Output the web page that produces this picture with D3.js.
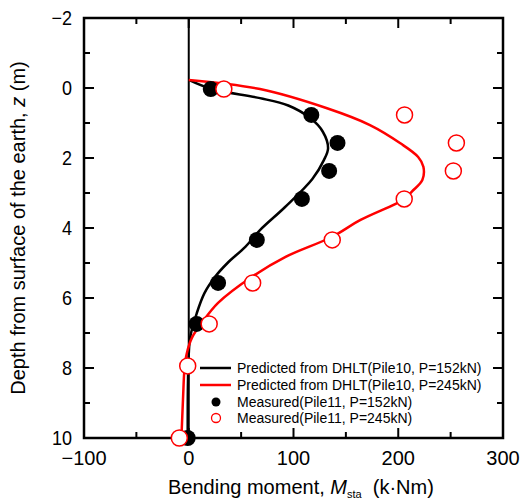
<!DOCTYPE html>
<html><head><meta charset="utf-8">
<script src="https://cdn.jsdelivr.net/npm/d3@7"></script>
<style>body{margin:0;background:#fff}svg{display:block}text{font-family:"Liberation Sans",Arial,sans-serif}</style>
</head><body><svg id="c" width="521" height="501"></svg>
<script>
// Data
const xTicks = [-100, 0, 100, 200, 300];
const yTicks = [-2, 0, 2, 4, 6, 8, 10];
const measDepth = [0.03, 0.77, 1.57, 2.37, 3.17, 4.34, 5.57, 6.74, 7.94, 10];
const meas152 = [21, 117, 142, 134, 108, 65, 28, 7.5, -1, -1];
const meas245 = [33.5, 206, 255.5, 252.6, 205.7, 137, 61, 19.5, -1, -9];
const predDepth152 = [-0.23, 0.03, 0.29, 0.5, 0.86, 1.25, 1.72, 2.06, 2.6, 3.4, 4.06, 4.54, 5.0, 5.4, 5.86, 6.43, 7.1, 7.6, 8.5, 10];
const pred152 = [0, 22, 68, 95, 116, 128, 133, 129, 118, 92, 68, 54, 37, 25, 15, 7.7, 1.5, 0, -0.8, -1];
const predDepth245 = [-0.23, 0.03, 0.58, 1.06, 1.58, 1.97, 2.25, 2.63, 2.96, 3.17, 3.77, 4.25, 4.83, 5.4, 6.14, 6.71, 7.14, 7.6, 8.0, 8.9, 10];
const pred245 = [0, 68, 132, 173, 202, 219, 224, 223, 213, 206, 164, 137, 92, 60, 28, 12.5, 3, -2, -4, -5.5, -7];
const legendLabels = ["Predicted from DHLT(Pile10, P=152kN)", "Predicted from DHLT(Pile10, P=245kN)", "Measured(Pile11, P=152kN)", "Measured(Pile11, P=245kN)"];

const svg = d3.select("#c");
const L = 84, R = 503, T = 18, B = 438;
const x = d3.scaleLinear().domain([-100, 300]).range([L, R]);
const y = d3.scaleLinear().domain([-2, 10]).range([T, B]);

// ticks
const g = svg.append("g");
const minorX = d3.range(-100, 301, 50), minorY = d3.range(-2, 10.01, 1);
minorX.forEach(v => {
  const len = (v % 100 === 0) ? 10 : 6;
  if (v === -100 || v === 300) return;
  g.append("line").attr("x1", x(v)).attr("x2", x(v)).attr("y1", B).attr("y2", B - len).attr("stroke", "#000").attr("stroke-width", 2);
  g.append("line").attr("x1", x(v)).attr("x2", x(v)).attr("y1", T).attr("y2", T + len).attr("stroke", "#000").attr("stroke-width", 2);
});
minorY.forEach(v => {
  const len = (v % 2 === 0) ? 10 : 6;
  if (v === -2 || v === 10) return;
  g.append("line").attr("x1", L).attr("x2", L + len).attr("y1", y(v)).attr("y2", y(v)).attr("stroke", "#000").attr("stroke-width", 2);
  g.append("line").attr("x1", R).attr("x2", R - len).attr("y1", y(v)).attr("y2", y(v)).attr("stroke", "#000").attr("stroke-width", 2);
});
// zero line
g.append("line").attr("x1", x(0)).attr("x2", x(0)).attr("y1", T).attr("y2", B).attr("stroke", "#000").attr("stroke-width", 2);
// frame
svg.append("rect").attr("x", L).attr("y", T).attr("width", R - L).attr("height", B - T).attr("fill", "none").attr("stroke", "#000").attr("stroke-width", 2.5);

// tick labels
xTicks.forEach(v => svg.append("text").attr("x", x(v)).attr("y", 465).attr("text-anchor", "middle").attr("font-size", 20).text(v < 0 ? "\u2212" + (-v) : v));
yTicks.forEach(v => svg.append("text").attr("x", 72).attr("y", y(v) + 7).attr("text-anchor", "end").attr("font-size", 20).attr("transform", `translate(72,0) scale(0.9,1) translate(-72,0)`).text(v < 0 ? "\u2212" + (-v) : v));

// axis titles
const yt = svg.append("text").attr("transform", "translate(25,228) rotate(-90)").attr("text-anchor", "middle").attr("font-size", 20);
yt.append("tspan").text("Depth from surface of the earth, ");
yt.append("tspan").attr("font-style", "italic").text("z");
yt.append("tspan").text(" (m)");
const xt = svg.append("text").attr("x", 168).attr("y", 494).attr("font-size", 20);
xt.append("tspan").text("Bending moment, ");
xt.append("tspan").attr("font-style", "italic").text("M");
xt.append("tspan").attr("font-size", 11).attr("dy", 4).text("sta");
xt.append("tspan").attr("dy", -4).text("\u00a0\u00a0(k\u00b7Nm)");

// curves
svg.append("clipPath").attr("id", "clp").append("rect").attr("x", L).attr("y", T).attr("width", R - L).attr("height", B - T);
const line = d3.line().x(d => x(d[0])).y(d => y(d[1])).curve(d3.curveCatmullRom.alpha(0.5));
svg.append("path").datum(d3.zip(pred152, predDepth152)).attr("d", line).attr("fill", "none").attr("stroke", "#000").attr("stroke-width", 2.5).attr("clip-path", "url(#clp)");
svg.append("path").datum(d3.zip(pred245, predDepth245)).attr("d", line).attr("fill", "none").attr("stroke", "#f00").attr("stroke-width", 2.5).attr("clip-path", "url(#clp)");

// points
svg.append("g").selectAll("circle").data(d3.zip(meas152, measDepth)).join("circle")
  .attr("cx", d => x(d[0])).attr("cy", d => y(d[1])).attr("r", 8).attr("fill", "#000");
svg.append("g").selectAll("circle").data(d3.zip(meas245, measDepth)).join("circle")
  .attr("cx", d => x(d[0])).attr("cy", d => y(d[1])).attr("r", 8).attr("fill", "#fff").attr("stroke", "#f00").attr("stroke-width", 1.5);

// legend
const ly = [368, 385, 402, 418];
const lg = svg.append("g");
lg.append("line").attr("x1", 200).attr("x2", 231).attr("y1", ly[0]).attr("y2", ly[0]).attr("stroke", "#000").attr("stroke-width", 2.5);
lg.append("line").attr("x1", 200).attr("x2", 231).attr("y1", ly[1]).attr("y2", ly[1]).attr("stroke", "#f00").attr("stroke-width", 2.5);
lg.append("circle").attr("cx", 216).attr("cy", ly[2]).attr("r", 4.5).attr("fill", "#000");
lg.append("circle").attr("cx", 216).attr("cy", ly[3]).attr("r", 4.5).attr("fill", "#fff").attr("stroke", "#f00").attr("stroke-width", 1.3);
legendLabels.forEach((t, i) => lg.append("text").attr("x", 237).attr("y", ly[i] + 5).attr("font-size", 14).text(t));
</script></body></html>
